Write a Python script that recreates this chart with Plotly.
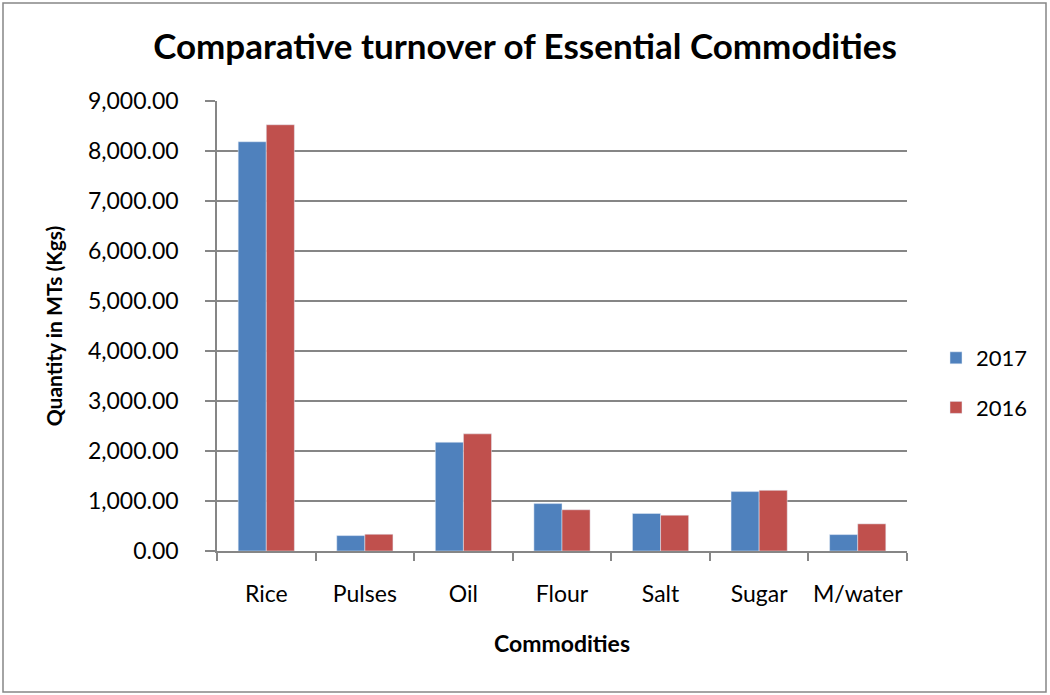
import plotly.graph_objects as go

categories = ["Rice", "Pulses", "Oil", "Flour", "Salt", "Sugar", "M/water"]
values_2017 = [8185, 308, 2175, 948, 750, 1188, 328]
values_2016 = [8525, 335, 2343, 825, 717, 1213, 543]
y_ticks = [0, 1000, 2000, 3000, 4000, 5000, 6000, 7000, 8000, 9000]

FONT = "Lato"
W, H = 1050, 695
L, R, T, B = 217, 143, 101, 144
pw, ph = W - L - R, H - T - B

fig = go.Figure()
fig.add_trace(go.Bar(name="2017", x=categories, y=values_2017, marker_color="#4F81BD",
                     legendgroup="g2017"))
fig.add_trace(go.Bar(name="2016", x=categories, y=values_2016, marker_color="#C0504D",
                     legendgroup="g2016"))

def px_x(p):
    return (p - L) / pw

def px_y(p):
    return (H - B - p) / ph

fig.update_layout(
    width=W, height=H,
    margin=dict(l=L, r=R, t=T, b=B, pad=0, autoexpand=False),
    paper_bgcolor="white", plot_bgcolor="white",
    barmode="group", bargap=0.43, bargroupgap=0,
    font=dict(family=FONT, color="black", size=23),
    title=dict(text="<b>Comparative turnover of Essential Commodities</b>",
               x=0.5, xanchor="center", y=1 - 47 / H, yanchor="middle",
               font=dict(family=FONT, size=35, color="black")),
    legend=dict(x=px_x(936), y=px_y(337), xanchor="left", yanchor="top",
                font=dict(family=FONT, size=22), tracegroupgap=18,
                bgcolor="rgba(0,0,0,0)"),
    xaxis=dict(showline=True, linecolor="#868686", linewidth=1.5,
               ticks="outside", tickson="boundaries", ticklen=8, tickcolor="#868686",
               tickwidth=1.5, ticklabelstandoff=22, tickangle=0, automargin=False,
               tickfont=dict(size=23),
               title=dict(text="<b>Commodities</b>", font=dict(size=23), standoff=30),
               showgrid=False),
    yaxis=dict(range=[0, 9000], tickvals=y_ticks, tickformat=",.2f",
               showline=True, linecolor="#868686", linewidth=1.5,
               ticks="outside", ticklen=10, tickcolor="#868686", tickwidth=1.5,
               ticklabelstandoff=22, automargin=False,
               showgrid=True, gridcolor="#868686", gridwidth=1.5,
               title=dict(text="<b>Quantity in MTs (Kgs)</b>", font=dict(size=21), standoff=20),
               zeroline=False),
)

fig.add_shape(type="rect", xref="paper", yref="paper",
              x0=px_x(3), x1=px_x(1046), y0=px_y(692), y1=px_y(3),
              line=dict(color="#868686", width=1.5), layer="below")

fig.write_html("out.html")
